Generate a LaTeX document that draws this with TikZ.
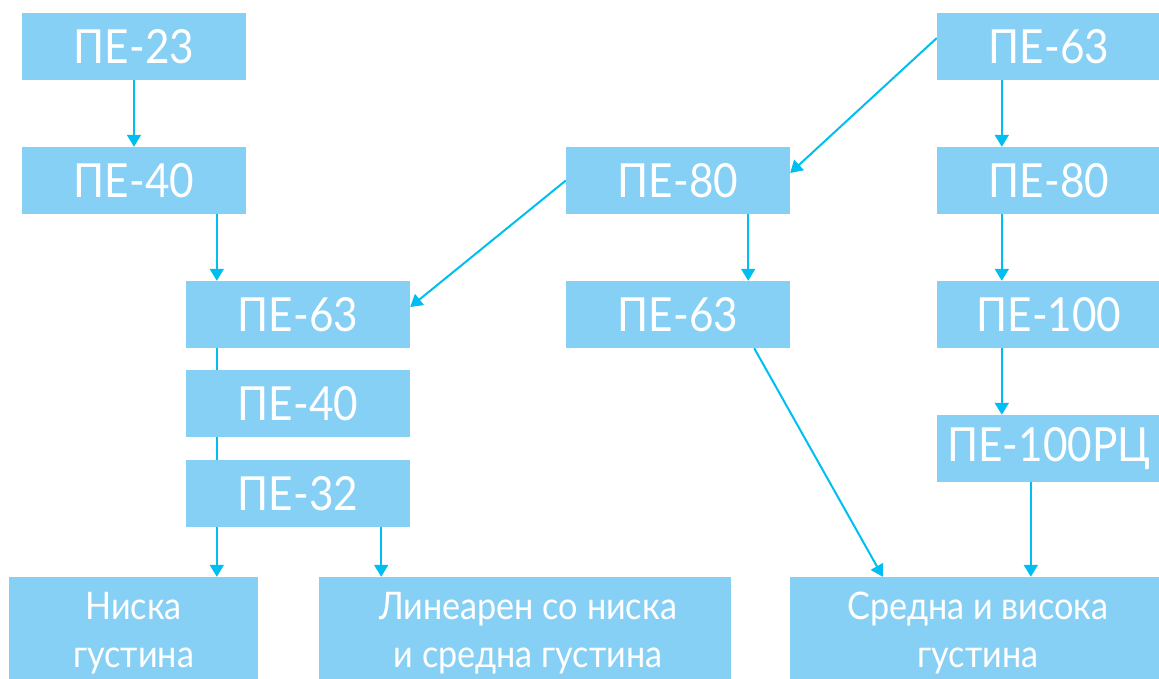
\documentclass[tikz,border=0pt]{standalone}
\usepackage{fontspec}
\setmainfont{Lato}[FakeStretch=0.9]
\usetikzlibrary{arrows.meta,backgrounds}
\definecolor{boxblue}{RGB}{135,208,245}
\definecolor{arrblue}{RGB}{0,190,240}
\begin{document}
\begin{tikzpicture}[x=1pt,y=-1pt,
  box/.style={fill=boxblue,text=white,inner sep=0pt,minimum width=224pt,minimum height=67pt,
    font=\fontsize{47}{50}\selectfont},
  bigbox/.style={fill=boxblue,inner sep=0pt,minimum height=102pt},
  bigtext/.style={text=white,inner sep=0pt,align=center,font=\fontsize{38}{48}\selectfont},
  arr/.style={draw=arrblue,line width=2pt,-{Triangle[width=14pt,length=12pt]}}]
\useasboundingbox (0,0) rectangle (1159,679);
\node[box] (a) at (134,46.5) {ПЕ-23};
\node[box] (b) at (134,180.5) {ПЕ-40};
\node[box] (c) at (298,314.5) {ПЕ-63};
\node[box] (d) at (298,403.5) {ПЕ-40};
\node[box] (e) at (298,493.5) {ПЕ-32};
\node[bigbox,minimum width=249pt] (f) at (133.5,628) {};
\node[bigbox,minimum width=412pt] (l) at (525,628) {};
\node[bigbox,minimum width=370pt] (s) at (975,628) {};
\node[bigtext] (ft) at ([yshift=-5pt]f.center) {Ниска\\густина};
\node[bigtext] (lt) at ([yshift=-5pt,xshift=3pt]l.center) {Линеарен со ниска\\и средна густина};
\node[bigtext] (st) at ([yshift=-5pt,xshift=3pt]s.center) {Средна и висока\\густина};
\node[box] (g) at (678,180.5) {ПЕ-80};
\node[box] (h) at (678,314.5) {ПЕ-63};
\node[box] (k) at (1049,46.5) {ПЕ-63};
\node[box] (m) at (1049,180.5) {ПЕ-80};
\node[box] (n) at (1049,314.5) {ПЕ-100};
\node[box] (o) at (1049,448.5) {ПЕ-100РЦ};
\coordinate (p1) at ([xshift=31pt]c.north west);
\coordinate (p2) at ([xshift=-29pt]e.south east);
\coordinate (p3) at ([xshift=-42pt]h.north east);
\coordinate (p4) at ([xshift=-36pt]h.south east);
\coordinate (p5) at ([xshift=93pt]s.north west);
\coordinate (p6) at ([xshift=65pt]k.south west);
\coordinate (p7) at ([xshift=94pt]o.south west);
\begin{pgfonlayer}{background}
\draw[arr] (a.south) -- (b.north);
\draw[arr] (b.south -| p1) -- (p1);
\draw[arr] (c.south -| p1) -- (f.north -| p1);
\draw[arr] (p2) -- (l.north -| p2);
\draw[arr] (g.west) -- ([yshift=7.5pt]c.east);
\draw[arr] ([yshift=8.5pt]k.west) -- ([yshift=7.5pt]g.east);
\draw[arr] (g.south -| p3) -- (p3);
\draw[arr] (p4) -- (p5);
\draw[arr] (p6) -- (m.north -| p6);
\draw[arr] (m.south -| p6) -- (n.north -| p6);
\draw[arr] (n.south -| p6) -- (o.north -| p6);
\draw[arr] (p7) -- (s.north -| p7);
\end{pgfonlayer}
\end{tikzpicture}
\end{document}
